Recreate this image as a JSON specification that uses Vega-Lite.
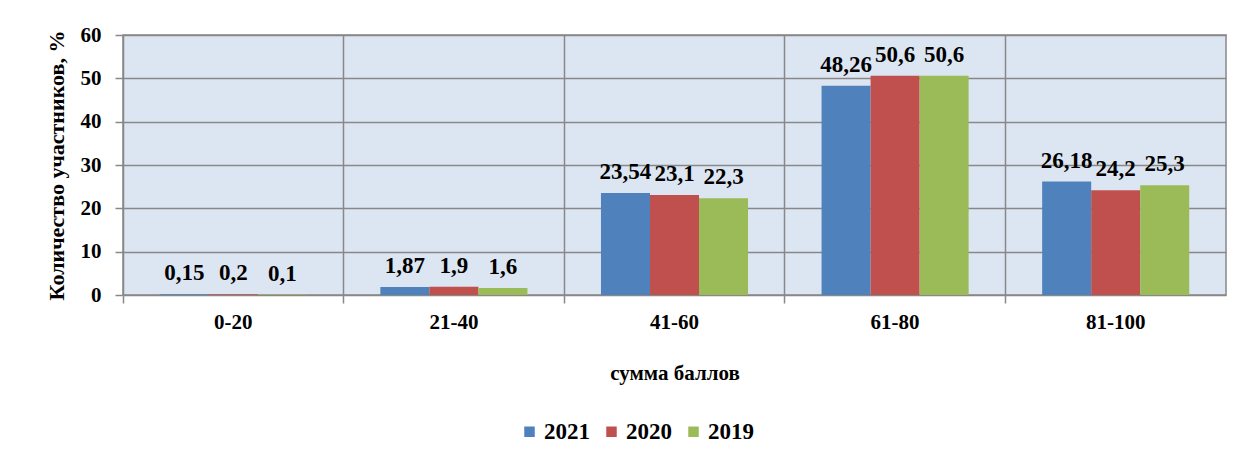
{
  "$schema": "https://vega.github.io/schema/vega-lite/v6.json",
  "autosize": "none",
  "width": 1103,
  "height": 260,
  "padding": {"left": 123, "top": 35, "right": 11, "bottom": 164},
  "background": "white",
  "config": {
    "font": "'Liberation Serif', 'Times New Roman', 'DejaVu Serif', serif",
    "view": {"fill": "#dce6f2", "stroke": "#888888", "strokeWidth": 1.5},
    "axis": {"labelFont": "'Liberation Serif', 'Times New Roman', 'DejaVu Serif', serif", "titleFont": "'Liberation Serif', 'Times New Roman', 'DejaVu Serif', serif", "labelFontWeight": "bold", "titleFontWeight": "bold", "labelColor": "black", "titleColor": "black", "domainColor": "#888888", "tickColor": "#888888", "gridColor": "#888888", "gridOpacity": 1, "gridWidth": 1.5, "domainWidth": 1.5, "tickWidth": 1.5}
  },
  "data": {
    "values": [
      {"range": "0-20", "year": "2021", "value": 0.15, "label": "0,15"},
      {"range": "0-20", "year": "2020", "value": 0.2, "label": "0,2"},
      {"range": "0-20", "year": "2019", "value": 0.1, "label": "0,1"},
      {"range": "21-40", "year": "2021", "value": 1.87, "label": "1,87"},
      {"range": "21-40", "year": "2020", "value": 1.9, "label": "1,9"},
      {"range": "21-40", "year": "2019", "value": 1.6, "label": "1,6"},
      {"range": "41-60", "year": "2021", "value": 23.54, "label": "23,54"},
      {"range": "41-60", "year": "2020", "value": 23.1, "label": "23,1"},
      {"range": "41-60", "year": "2019", "value": 22.3, "label": "22,3"},
      {"range": "61-80", "year": "2021", "value": 48.26, "label": "48,26"},
      {"range": "61-80", "year": "2020", "value": 50.6, "label": "50,6"},
      {"range": "61-80", "year": "2019", "value": 50.6, "label": "50,6"},
      {"range": "81-100", "year": "2021", "value": 26.18, "label": "26,18"},
      {"range": "81-100", "year": "2020", "value": 24.2, "label": "24,2"},
      {"range": "81-100", "year": "2019", "value": 25.3, "label": "25,3"}
    ]
  },
  "encoding": {
    "x": {
      "field": "range", "type": "nominal", "sort": null,
      "scale": {"paddingInner": 0, "paddingOuter": 0},
      "axis": {"title": "сумма баллов", "labelAngle": 0, "labelFontSize": 21, "titleFontSize": 21, "bandPosition": 0, "grid": true, "tickSize": 8, "labelPadding": 8, "titlePadding": 30, "domain": false}
    },
    "xOffset": {"field": "year", "type": "nominal", "sort": ["2021", "2020", "2019"], "scale": {"paddingOuter": 0.75, "paddingInner": 0}},
    "y": {
      "field": "value", "type": "quantitative",
      "scale": {"domain": [0, 60], "nice": false},
      "axis": {"title": "Количество участников, %", "values": [0, 10, 20, 30, 40, 50, 60], "labelFontSize": 21, "titleFontSize": 22, "tickSize": 8, "labelPadding": 14, "titlePadding": 12, "grid": true, "domain": false}
    }
  },
  "layer": [
    {
      "mark": {"type": "bar"},
      "encoding": {
        "color": {
          "field": "year", "type": "nominal",
          "sort": ["2021", "2020", "2019"],
          "scale": {"domain": ["2021", "2020", "2019"], "range": ["#4f81bd", "#c0504d", "#9bbb59"]},
          "legend": {"title": null, "orient": "none", "direction": "horizontal", "legendX": 395, "legendY": 385, "symbolType": "square", "symbolSize": 110, "symbolStrokeWidth": 0, "labelFont": "'Liberation Serif', 'Times New Roman', serif", "labelFontWeight": "bold", "labelFontSize": 23, "labelColor": "black", "columnPadding": 10, "symbolOffset": 0, "labelOffset": 3}
        }
      }
    },
    {
      "mark": {"type": "text", "baseline": "alphabetic", "dy": -14, "fontSize": 23, "fontWeight": "bold", "font": "'Liberation Serif', 'Times New Roman', serif", "color": "black"},
      "encoding": {"text": {"field": "label"}}
    }
  ]
}
